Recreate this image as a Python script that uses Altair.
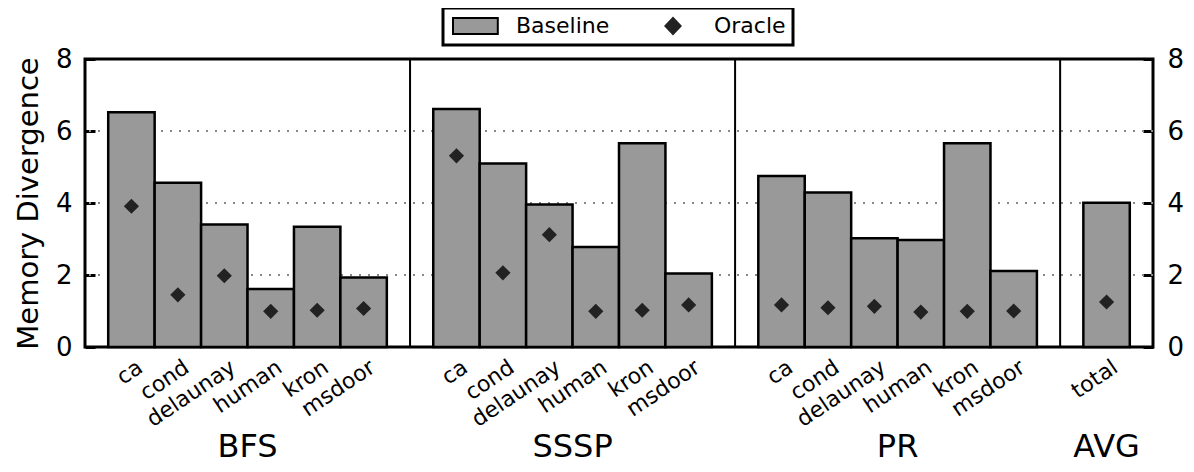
import altair as alt
import pandas as pd

# ---- data ----
groups = ["BFS", "SSSP", "PR", "AVG"]
graphs = ["ca", "cond", "delaunay", "human", "kron", "msdoor"]
avg_labels = ["total"]

bfs_base = [6.52, 4.56, 3.40, 1.61, 3.34, 1.93]
bfs_oracle = [3.91, 1.45, 1.98, 0.99, 1.02, 1.07]
sssp_base = [6.61, 5.10, 3.96, 2.78, 5.66, 2.04]
sssp_oracle = [5.31, 2.06, 3.12, 0.99, 1.02, 1.17]
pr_base = [4.75, 4.29, 3.02, 2.97, 5.66, 2.11]
pr_oracle = [1.17, 1.09, 1.13, 0.97, 0.99, 1.00]
avg_base = [4.01]
avg_oracle = [1.25]

series_names = ["Baseline", "Oracle"]
y_ticks = [0, 2, 4, 6, 8]
grid_values = [2, 4, 6]

group_data = [
    (groups[0], graphs, bfs_base, bfs_oracle),
    (groups[1], graphs, sssp_base, sssp_oracle),
    (groups[2], graphs, pr_base, pr_oracle),
    (groups[3], avg_labels, avg_base, avg_oracle),
]

# ---- build tables (positions follow from category order) ----
rows, grp_rows, sep_rows = [], [], []
offset = 0
for gi, (g, labels, base, orc) in enumerate(group_data):
    for i, lab in enumerate(labels):
        x = offset + 0.5 + i
        rows.append({"group": g, "label": lab, "x": x, "x2": x + 1, "mid": x + 0.5,
                     "base": base[i], "oracle": orc[i],
                     "sb": series_names[0], "so": series_names[1]})
    span = len(labels) + 1
    grp_rows.append({"group": g, "center": offset + span / 2})
    offset += span
    if gi < len(group_data) - 1:
        sep_rows.append({"b": offset})
total_units = offset

df = pd.DataFrame(rows)
gdf = pd.DataFrame(grp_rows)
sdf = pd.DataFrame(sep_rows)
griddf = pd.DataFrame({"g": grid_values})

FONT = "DejaVu Sans"
xs = alt.Scale(domain=[0, total_units], nice=False, zero=False)
ys = alt.Scale(domain=[0, 8], nice=False)
cs = alt.Scale(domain=series_names, range=["#999999", "#222222"])

# legend symbols: a wide swatch for Baseline, a diamond for Oracle
rect_path = "M-1,-1H4.6V1H-1Z"
diamond_path = "M1.75,-1L2.7,0L1.75,1L0.8,0Z"
legend = alt.Legend(
    title=None, orient="none", legendX=358, legendY=-51, direction="horizontal",
    strokeColor="black", padding=7, labelFontSize=22, labelFont=FONT, labelColor="black",
    symbolType={"expr": f"datum.value === 'Oracle' ? '{diamond_path}' : '{rect_path}'"},
    symbolSize=256,
    symbolStrokeColor={"expr": "datum.value === 'Oracle' ? '#222222' : 'black'"},
    symbolStrokeWidth=2, symbolOpacity=1,
    columnPadding=38, labelOffset=44,
)

grid = alt.Chart(griddf).mark_rule(color="#888888", strokeWidth=2, strokeDash=[2, 7]).encode(
    y=alt.Y("g:Q", scale=ys, axis=None)
)

bars = alt.Chart(df).mark_bar(stroke="black", strokeWidth=2.5, opacity=1).encode(
    x=alt.X("x:Q", scale=xs, axis=None),
    x2="x2:Q",
    y=alt.Y("base:Q", scale=ys, axis=alt.Axis(
        orient="left", values=y_ticks, title="Memory Divergence", titleFontSize=29,
        titleFont=FONT, titleFontWeight="normal", titleColor="black", titlePadding=12,
        labelFontSize=26, labelFont=FONT, labelColor="black", labelPadding=13,
        tickSize=10, tickWidth=3, tickColor="black", offset=-10, domain=False, grid=False)),
    y2=alt.datum(0),
    color=alt.Color("sb:N", scale=cs, legend=legend),
)

seps = alt.Chart(sdf).mark_rule(color="black", strokeWidth=2).encode(
    x=alt.X("b:Q", scale=xs, axis=None)
)

points = alt.Chart(df).mark_point(shape="diamond", filled=True, size=230, opacity=1).encode(
    x=alt.X("mid:Q", scale=xs, axis=None),
    y=alt.Y("oracle:Q", scale=ys, axis=alt.Axis(
        orient="right", values=y_ticks, title=None,
        labelFontSize=26, labelFont=FONT, labelColor="black", labelPadding=14,
        tickSize=10, tickWidth=3, tickColor="black", offset=-10, domain=False, grid=False)),
    color=alt.Color("so:N", scale=cs),
)

xlabels = alt.Chart(df).mark_text(
    align="right", baseline="top", fontSize=22, font=FONT, color="black", dx=4
).encode(
    x=alt.X("mid:Q", scale=xs, axis=None),
    y=alt.value(300),
    text="label:N",
    angle=alt.value(326),
)

glabels = alt.Chart(gdf).mark_text(fontSize=32, font=FONT, color="black", baseline="alphabetic").encode(
    x=alt.X("center:Q", scale=xs, axis=None),
    y=alt.value(398),
    text="group:N",
)

chart = alt.layer(grid, bars, seps, points, xlabels, glabels).resolve_axis(
    y="independent"
).properties(
    width=1068, height=288,
    autosize=alt.AutoSizeParams(type="none"),
    padding={"left": 77, "top": 51, "right": 33, "bottom": 117},
).configure(
    font=FONT
).configure_view(
    stroke="black", strokeWidth=3
).configure_legend(
    strokeWidth=3
)

chart.save("out.html", embed_options={"renderer": "svg", "actions": False})
